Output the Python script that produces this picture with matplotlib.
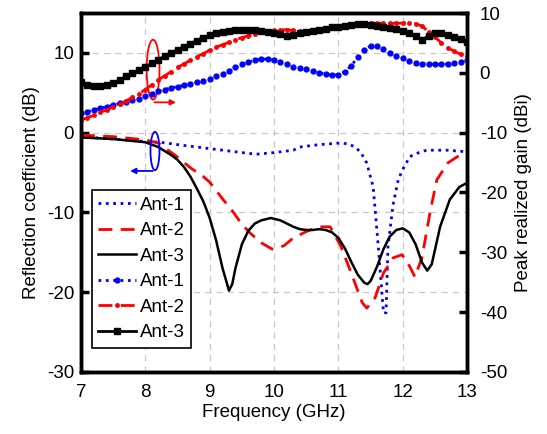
import matplotlib.pyplot as plt
import numpy as np
from matplotlib.patches import Ellipse

plt.rcParams['font.family'] = ['Liberation Sans', 'DejaVu Sans']
plt.rcParams['axes.unicode_minus'] = False

# reflection coefficient data (dB)
f_s1 = [7.0, 7.5, 8.0, 8.23, 8.5, 8.8, 9.0, 9.3, 9.5, 9.73, 10.0, 10.3, 10.4, 10.7, 11.03, 11.15, 11.26,
        11.35, 11.44, 11.54, 11.62, 11.7, 11.74, 11.77, 11.85, 11.93, 12.0, 12.11, 12.25, 12.37, 12.69, 13.0]
s1 = [-0.5, -0.8, -1.1, -1.2, -1.5, -1.8, -2.0, -2.3, -2.5, -2.7, -2.5, -2.2, -1.8, -1.5, -1.3, -1.4, -1.8,
      -2.5, -3.8, -6.8, -14.3, -22.6, -22.6, -14.3, -9.0, -5.9, -4.6, -3.0, -2.5, -2.2, -2.2, -2.4]

f_s2 = [7.0, 7.5, 8.0, 8.2, 8.49, 8.7, 8.9, 9.0, 9.2, 9.37, 9.5, 9.63, 9.8, 9.97, 10.15, 10.3, 10.5,
        10.7, 10.87, 11.03, 11.18, 11.37, 11.44, 11.57, 11.7, 11.85, 11.99, 12.11, 12.19, 12.3, 12.43,
        12.53, 12.7, 12.85, 13.0]
s2 = [-0.3, -0.5, -0.9, -1.3, -3.0, -4.4, -5.5, -6.2, -8.3, -10.0, -11.5, -12.6, -13.8, -14.6, -14.2,
      -13.2, -12.4, -11.8, -11.8, -14.1, -17.2, -21.3, -22.0, -20.7, -17.6, -15.7, -15.3, -16.8, -18.1,
      -15.6, -9.7, -5.9, -3.8, -3.0, -2.4]

f_s3 = [7.0, 7.5, 8.0, 8.2, 8.4, 8.5, 8.6, 8.7, 8.8, 8.9, 9.0, 9.1, 9.2, 9.3, 9.35, 9.4, 9.5, 9.6, 9.7,
        9.8, 9.95, 10.1, 10.2, 10.3, 10.4, 10.5, 10.6, 10.7, 10.8, 10.9, 11.0, 11.1, 11.2, 11.3, 11.4,
        11.45, 11.5, 11.6, 11.7, 11.8, 11.9, 12.0, 12.1, 12.2, 12.3, 12.38, 12.45, 12.58, 12.73, 12.88, 13.0]
s3 = [-0.6, -0.8, -1.2, -1.8, -2.8, -3.4, -4.3, -5.5, -7.0, -8.6, -10.7, -13.5, -17.0, -19.8, -19.0,
      -17.0, -14.0, -12.3, -11.4, -11.0, -10.7, -11.0, -11.4, -11.8, -12.1, -12.2, -12.2, -12.1, -12.2,
      -12.5, -13.2, -14.5, -16.2, -17.8, -18.8, -19.0, -18.6, -16.8, -14.6, -13.0, -12.2, -12.0, -12.5,
      -14.0, -16.3, -17.3, -16.5, -11.8, -8.4, -6.8, -6.3]

# peak realized gain data (dBi), every 0.1 GHz
f_g = np.arange(7.0, 13.01, 0.1)
g1 = [-6.7, -6.5, -6.2, -5.9, -5.7, -5.4, -5.1, -4.9, -4.6, -4.3, -3.9, -3.5, -3.1, -2.8, -2.5, -2.3,
      -2.1, -1.9, -1.6, -1.3, -1.0, -0.6, -0.2, 0.3, 0.9, 1.4, 1.8, 2.1, 2.3, 2.3, 2.1, 1.8, 1.4, 1.0,
      0.8, 0.6, 0.3, 0.0, -0.2, -0.4, -0.3, 0.2, 1.2, 2.6, 3.9, 4.5, 4.5, 4.0, 3.3, 2.8, 2.4, 2.0, 1.7,
      1.5, 1.5, 1.4, 1.4, 1.5, 1.6, 1.8, 2.1]
g2 = [-7.9, -7.5, -7.1, -6.6, -6.2, -5.7, -5.2, -4.7, -4.1, -3.5, -2.8, -2.0, -1.2, -0.5, 0.2, 0.9,
      1.5, 2.1, 2.7, 3.2, 3.8, 4.3, 4.7, 5.1, 5.5, 5.9, 6.2, 6.5, 6.8, 7.0, 7.1, 7.2, 7.2, 7.1, 7.0,
      7.0, 7.1, 7.3, 7.4, 7.6, 7.7, 7.9, 8.0, 8.2, 8.3, 8.3, 8.3, 8.3, 8.3, 8.3, 8.3, 8.3, 8.2, 7.8,
      6.9, 6.0, 5.0, 4.2, 3.6, 3.1, 2.8]
g3 = [-1.5, -2.0, -2.2, -2.2, -2.0, -1.7, -1.2, -0.6, -0.1, 0.4, 1.0, 1.6, 2.2, 2.8, 3.3, 3.9, 4.4,
      4.9, 5.4, 5.9, 6.3, 6.6, 6.9, 7.0, 7.1, 7.2, 7.2, 7.1, 7.0, 6.8, 6.7, 6.5, 6.2, 6.3, 6.7, 6.8,
      7.0, 7.2, 7.4, 7.6, 7.7, 7.9, 8.0, 8.1, 8.1, 8.0, 7.8, 7.7, 7.5, 7.3, 7.0, 6.6, 6.1, 5.5, 6.2,
      6.6, 6.6, 6.3, 6.0, 5.6, 5.2]

fs = 13.5

fig = plt.figure(figsize=(5.47, 4.34), dpi=100)
ax = fig.add_axes([0.148, 0.143, 0.706, 0.827])
ax2 = ax.twinx()

l1, = ax.plot(f_s1, s1, ':', color='blue', lw=2, label='Ant-1')
l2, = ax.plot(f_s2, s2, color='red', lw=2, dashes=(5, 3), label='Ant-2')
l3, = ax.plot(f_s3, s3, '-', color='black', lw=1.8, label='Ant-3')

m1, = ax2.plot(f_g, g1, ':', color='blue', lw=2, marker='o', ms=3.5, label='Ant-1')
m2, = ax2.plot(f_g, g2, color='red', lw=2, dashes=(5, 3), marker='o', ms=2.5, label='Ant-2')
m3, = ax2.plot(f_g, g3, '-', color='black', lw=2, marker='s', ms=4, label='Ant-3')

ax.set_xlim(7, 13)
ax.set_ylim(-30, 15)
ax.set_yticks([-30, -20, -10, 0, 10])
ax2.set_ylim(-50, 10)
ax2.set_yticks([-50, -40, -30, -20, -10, 0, 10])
ax.set_xticks(range(7, 14))

ax.grid(True, ls=(0, (5, 4)), color='#c8c8c8', lw=0.9)
for a in (ax, ax2):
    for s in a.spines.values():
        s.set_linewidth(2.5)
ax.tick_params(axis='y', direction='in', length=6, width=2.5, labelsize=fs, pad=5)
ax.tick_params(axis='x', length=0, labelsize=fs, pad=9)
ax2.tick_params(axis='y', direction='in', length=6, width=2.5, labelsize=fs, pad=9)

ax.set_xlabel('Frequency (GHz)', fontsize=fs, labelpad=2)
ax.set_ylabel('Reflection coefficient (dB)', fontsize=fs, labelpad=5)
ax2.set_ylabel('Peak realized gain (dBi)', fontsize=fs, labelpad=6)

# ellipses and arrows marking which axis each group belongs to
ax.add_patch(Ellipse((8.12, 7.9), 0.2, 7.5, fill=False, ec='red', lw=1.3, zorder=5))
ax.annotate('', xy=(8.52, 3.8), xytext=(8.1, 3.8),
            arrowprops=dict(arrowstyle='-|>', color='red', lw=1.3, mutation_scale=8))
ax.add_patch(Ellipse((8.15, -2.3), 0.14, 4.8, fill=False, ec='blue', lw=1.3, zorder=5))
ax.annotate('', xy=(7.72, -4.8), xytext=(8.16, -4.8),
            arrowprops=dict(arrowstyle='-|>', color='blue', lw=1.3, mutation_scale=8))

leg = ax2.legend([l1, l2, l3, m1, m2, m3], ['Ant-1', 'Ant-2', 'Ant-3', 'Ant-1', 'Ant-2', 'Ant-3'],
                 loc='lower left', bbox_to_anchor=(0.028, 0.067), fontsize=fs, fancybox=False,
                 edgecolor='black', framealpha=1, handlelength=2.0, handletextpad=0.2,
                 labelspacing=0.45, borderpad=0.35, borderaxespad=0)
leg.get_frame().set_linewidth(1.2)

fig.savefig('out.png', dpi=100)
